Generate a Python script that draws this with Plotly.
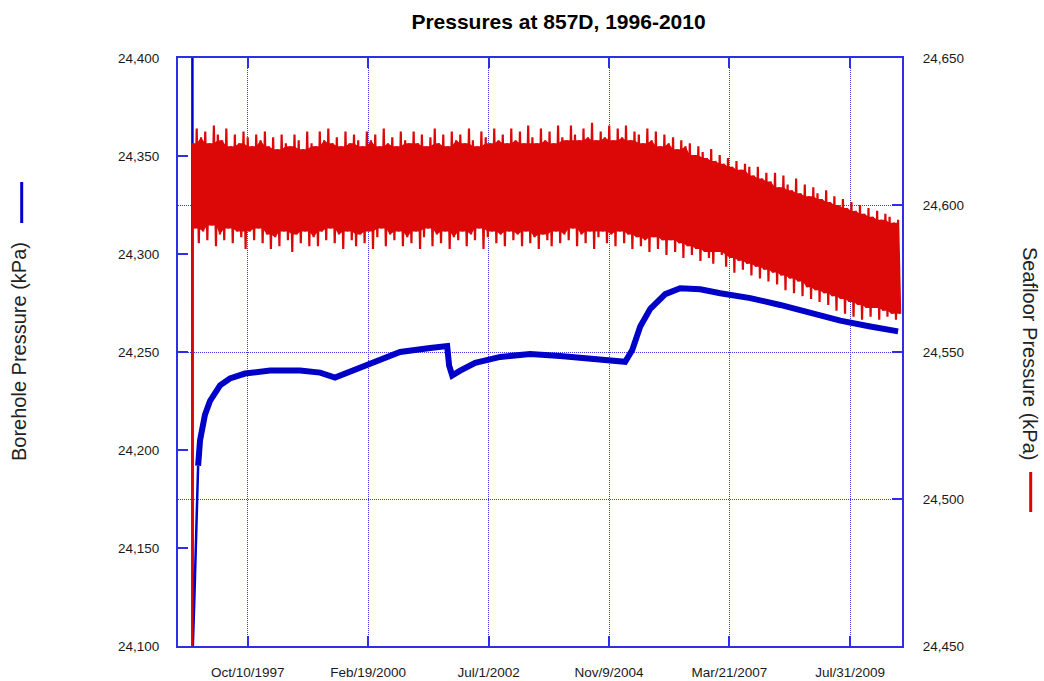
import pandas as pd
import plotly.graph_objects as go

# ---------------- data ----------------
# Borehole pressure, kPa (left axis)
bh_dates = [
    "1996-09-09", "1996-09-10", "1996-09-24", "1996-10-08", "1996-10-20",
    "1996-11-03", "1996-12-08", "1997-01-13", "1997-03-26", "1997-06-05",
    "1997-09-21", "1998-03-19", "1998-10-20", "1999-03-12", "1999-06-27",
    "1999-10-13", "2000-03-04", "2000-10-05", "2001-05-08", "2001-09-07",
    "2001-09-21", "2001-10-13", "2001-12-09", "2002-03-27", "2002-09-22",
    "2003-04-24", "2003-11-25", "2004-06-27", "2004-12-23", "2005-03-04",
    "2005-04-24", "2005-06-20", "2005-08-31", "2005-12-16", "2006-04-02",
    "2006-08-24", "2007-01-14", "2007-08-17", "2008-03-18", "2008-10-19",
    "2009-05-22", "2009-12-23", "2010-07-10",
]
bh_kpa = [
    24430, 24095, 24126, 24160, 24192,
    24205, 24218, 24225, 24233, 24236.5,
    24239, 24240.5, 24240.5, 24239.5, 24237,
    24240, 24244.5, 24250, 24252, 24253,
    24243, 24238, 24240.5, 24244.5, 24247.5,
    24249, 24248, 24246.5, 24245, 24245,
    24251, 24263, 24272, 24279.5, 24282.5,
    24282, 24280, 24277.5, 24274, 24270,
    24266, 24263, 24260.5,
]

# Seafloor pressure, kPa (right axis): first reading, then monthly
# tidal high / low extremes (Sep 1996 - Jul 2010)
sea_first_date = "1996-09-09"
sea_first_kpa = 24440
sea_start = "1996-09-10"
sea_hi = [
    24621, 24626, 24623, 24625,
    24621, 24627, 24624, 24622, 24626, 24620, 24624, 24621, 24625, 24623, 24620, 24624,
    24622, 24625, 24620, 24623, 24619, 24624, 24621, 24620, 24624, 24622, 24619, 24625,
    24621, 24620, 24625, 24622, 24626, 24621, 24623, 24620, 24625, 24621, 24624, 24622,
    24620, 24625, 24622, 24624, 24620, 24626, 24621, 24623, 24620, 24625, 24622, 24621,
    24625, 24621, 24624, 24620, 24623, 24626, 24621, 24624, 24620, 24625, 24622, 24624,
    24621, 24626, 24622, 24620, 24625, 24623, 24621, 24626, 24622, 24624, 24621, 24626,
    24622, 24625, 24621, 24627, 24623, 24621, 24626, 24622, 24625, 24621, 24627, 24623,
    24622, 24627, 24624, 24622, 24626, 24623, 24628, 24622, 24625, 24623, 24627, 24622,
    24626, 24623, 24627, 24622, 24625, 24624, 24621, 24626, 24622, 24625, 24620, 24624,
    24621, 24623, 24619, 24622, 24620, 24621, 24617, 24620, 24618, 24616, 24619, 24615,
    24617, 24614, 24616, 24613, 24615, 24612, 24614, 24613, 24610, 24613, 24609, 24611,
    24608, 24611, 24606, 24610, 24607, 24605, 24609, 24604, 24607, 24603, 24606, 24604,
    24602, 24605, 24601, 24603, 24600, 24602, 24599, 24601, 24598, 24600, 24597, 24599,
    24596, 24598, 24595, 24597, 24596, 24594, 24595,
]
sea_lo = [
    24592, 24587, 24591, 24588,
    24593, 24586, 24590, 24588, 24592, 24587, 24591, 24589, 24585, 24591, 24588, 24592,
    24587, 24590, 24585, 24589, 24586, 24591, 24588, 24584, 24590, 24587, 24591, 24586,
    24589, 24586, 24591, 24588, 24592, 24587, 24590, 24585, 24591, 24588, 24586, 24590,
    24587, 24591, 24585, 24589, 24592, 24586, 24590, 24588, 24591, 24586, 24589, 24587,
    24591, 24585, 24589, 24592, 24586, 24590, 24587, 24591, 24585, 24589, 24588, 24591,
    24586, 24590, 24588, 24592, 24585, 24589, 24591, 24587, 24590, 24586, 24591, 24588,
    24590, 24586, 24591, 24587, 24589, 24585, 24590, 24588, 24586, 24591, 24587, 24590,
    24588, 24592, 24586, 24590, 24587, 24591, 24585, 24589, 24591, 24587, 24590, 24586,
    24591, 24587, 24590, 24585, 24589, 24586, 24588, 24584, 24589, 24585, 24588, 24583,
    24588, 24584, 24587, 24582, 24586, 24583, 24585, 24581, 24584, 24582, 24580, 24584,
    24583, 24579, 24582, 24577, 24581, 24578, 24580, 24576, 24579, 24575, 24578, 24574,
    24577, 24573, 24576, 24571, 24575, 24570, 24574, 24569, 24572, 24568, 24571, 24567,
    24570, 24566, 24569, 24564, 24568, 24563, 24567, 24562, 24566, 24561, 24565, 24562,
    24565, 24561, 24564, 24562, 24563, 24561, 24563,
]

tick_dates = ["1997-10-10", "2000-02-19", "2002-07-01", "2004-11-09", "2007-03-21", "2009-07-31"]
tick_text = ["Oct/10/1997", "Feb/19/2000", "Jul/1/2002", "Nov/9/2004", "Mar/21/2007", "Jul/31/2009"]
x_range = ["1996-05-29", "2010-08-07"]
left_ticks = [24100, 24150, 24200, 24250, 24300, 24350, 24400]
right_ticks = [24450, 24500, 24550, 24600, 24650]

# ---------------- styling ----------------
FONT = "Liberation Sans, Arial, sans-serif"
RED = "#dc0808"
BLUE = "#0000c8"
FRAME = "#2e2ee6"
GRID = "#3a3ae8"
TXT = "#1a1a1a"

# seafloor trace: each monthly high, then the following low half a month later
hi_t = pd.date_range(sea_start, periods=len(sea_hi), freq=pd.DateOffset(months=1))
lo_t = hi_t + pd.Timedelta(days=15)
sea_x, sea_y = [pd.Timestamp(sea_first_date)], [sea_first_kpa]
for th, vh, tl, vl in zip(hi_t, sea_hi, lo_t, sea_lo):
    sea_x += [th, tl]
    sea_y += [vh, vl]

# solid core of the tidal band: range covered by every neighbouring cycle
core_top = pd.Series(sea_hi).rolling(3, center=True, min_periods=1).min()
core_bot = pd.Series(sea_lo).rolling(3, center=True, min_periods=1).max()

fig = go.Figure()

fig.add_trace(go.Scatter(
    x=lo_t, y=core_bot, yaxis="y2", mode="lines",
    line=dict(color=RED, width=0), hoverinfo="skip",
))
fig.add_trace(go.Scatter(
    x=hi_t, y=core_top, yaxis="y2", mode="lines", fill="tonexty",
    fillcolor=RED, line=dict(color=RED, width=0), hoverinfo="skip",
))
fig.add_trace(go.Scatter(
    x=sea_x, y=sea_y, yaxis="y2", mode="lines",
    line=dict(color=RED, width=2.2),
))

# borehole: initial readings (thin) and main record (thick)
n0 = 4
fig.add_trace(go.Scatter(
    x=bh_dates[:n0 + 1], y=bh_kpa[:n0 + 1], yaxis="y", mode="lines",
    line=dict(color=BLUE, width=2.5),
))
fig.add_trace(go.Scatter(
    x=bh_dates[n0:], y=bh_kpa[n0:], yaxis="y", mode="lines",
    line=dict(color=BLUE, width=6),
))

axis_common = dict(
    showline=True, linecolor=FRAME, linewidth=2,
    ticks="inside", ticklen=10, tickwidth=1.5, tickcolor=FRAME,
    tickfont=dict(family=FONT, size=13.5, color=TXT),
    zeroline=False, automargin=False,
)

fig.update_layout(
    width=1044, height=681,
    margin=dict(l=178, r=142, t=58, b=35),
    paper_bgcolor="white", plot_bgcolor="white",
    showlegend=False,
    title=dict(
        text="Pressures at 857D, 1996-2010",
        font=dict(family=FONT, size=21, color="#000000", weight="bold"),
        x=558.5 / 1044, xref="container", xanchor="center",
        y=1 - 21.5 / 681, yref="container", yanchor="middle",
    ),
    xaxis=dict(
        type="date", range=x_range, tickvals=tick_dates, ticktext=tick_text,
        showgrid=True, gridcolor=GRID, gridwidth=1, griddash="1px,1px",
        mirror="ticks", ticklabelstandoff=13, **axis_common,
    ),
    yaxis=dict(
        range=[24100, 24400], tickvals=left_ticks, tickformat=",",
        showgrid=False, ticklabelstandoff=14, **axis_common,
    ),
    yaxis2=dict(
        range=[24450, 24650], tickvals=right_ticks, tickformat=",",
        overlaying="y", side="right",
        showgrid=True, gridcolor=GRID, gridwidth=1, griddash="1px,1px",
        ticklabelstandoff=16, **axis_common,
    ),
)

# axis titles with their series keys
PW, PH, L, T = 724, 588, 178, 58
def px_x(v):
    return (v - L) / PW
def px_y(v):
    return (T + PH - v) / PH

fig.add_annotation(
    text="Borehole Pressure (kPa)", textangle=-90, showarrow=False,
    xref="paper", yref="paper", x=px_x(19), y=px_y(352),
    xanchor="center", yanchor="middle",
    font=dict(family=FONT, size=20, color="#222222"),
)
fig.add_annotation(
    text="Seafloor Pressure (kPa)", textangle=90, showarrow=False,
    xref="paper", yref="paper", x=px_x(1030), y=px_y(353),
    xanchor="center", yanchor="middle",
    font=dict(family=FONT, size=20, color="#222222"),
)
fig.add_shape(type="line", xref="paper", yref="paper",
              x0=px_x(21.7), x1=px_x(21.7), y0=px_y(182), y1=px_y(223),
              line=dict(color=BLUE, width=3))
fig.add_shape(type="line", xref="paper", yref="paper",
              x0=px_x(1030.7), x1=px_x(1030.7), y0=px_y(472), y1=px_y(512),
              line=dict(color="#e00000", width=3))

fig.write_html("out.html")
